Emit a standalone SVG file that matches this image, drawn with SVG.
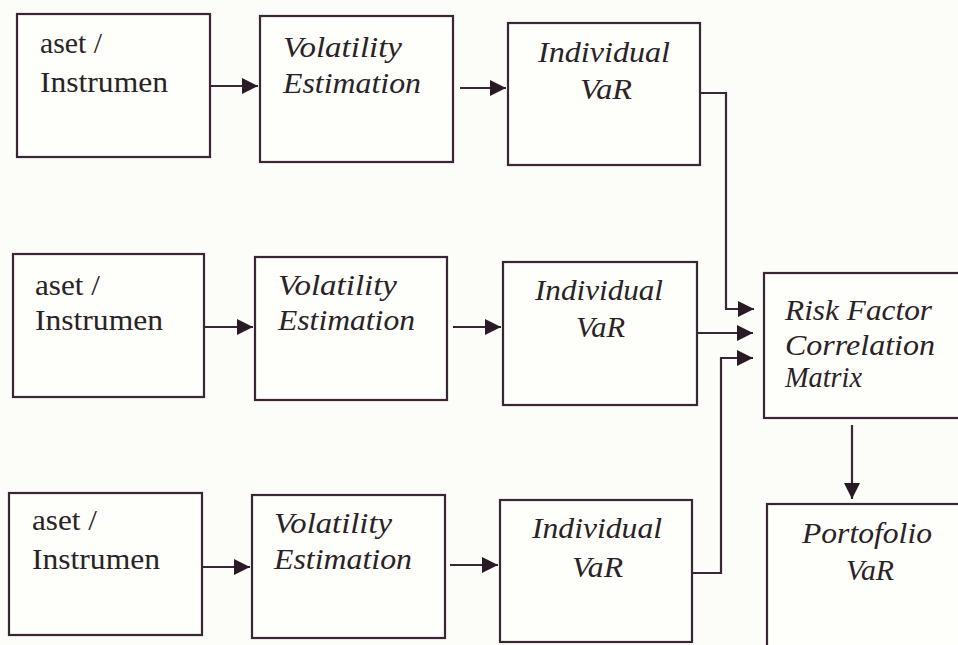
<svg xmlns="http://www.w3.org/2000/svg" width="958" height="645" viewBox="0 0 958 645">
<style>
.bg{fill:#fcfcf8}
.box{fill:#fefefb;stroke:#3a2634;stroke-width:2.2}
.t{font-family:"Liberation Serif","Times New Roman",serif;font-size:29px;fill:#2a2226}
.i{font-style:italic}
.c{fill:none;stroke:#3a2634;stroke-width:2.2}
</style>
<defs>
<marker id="ah" markerUnits="userSpaceOnUse" markerWidth="18" markerHeight="18" viewBox="0 0 18 18" refX="17" refY="9" orient="auto">
<path d="M1,1 L17,9 L1,17 Z" fill="#2a1a26"/>
</marker>
</defs>
<rect class="bg" x="0" y="0" width="958" height="645"/>

<g id="r1b1"><rect class="box" x="17" y="14" width="193" height="143"/>
<text class="t" x="40" y="53" textLength="62" lengthAdjust="spacingAndGlyphs">aset /</text>
<text class="t" x="40" y="92" textLength="128" lengthAdjust="spacingAndGlyphs">Instrumen</text></g>
<g id="r1b2"><rect class="box" x="260" y="16" width="193" height="146"/>
<text class="t i" x="283" y="57" textLength="119" lengthAdjust="spacingAndGlyphs">Volatility</text>
<text class="t i" x="283" y="93" textLength="138" lengthAdjust="spacingAndGlyphs">Estimation</text></g>
<g id="r1b3"><rect class="box" x="508" y="23" width="192" height="142"/>
<text class="t i" x="538" y="62" textLength="132" lengthAdjust="spacingAndGlyphs">Individual</text>
<text class="t i" x="580" y="99" textLength="52" lengthAdjust="spacingAndGlyphs">VaR</text></g>

<g id="r2b1"><rect class="box" x="13" y="254" width="191" height="143"/>
<text class="t" x="35" y="295" textLength="65" lengthAdjust="spacingAndGlyphs">aset /</text>
<text class="t" x="35" y="330" textLength="128" lengthAdjust="spacingAndGlyphs">Instrumen</text></g>
<g id="r2b2"><rect class="box" x="255" y="257" width="192" height="143"/>
<text class="t i" x="278" y="295" textLength="119" lengthAdjust="spacingAndGlyphs">Volatility</text>
<text class="t i" x="278" y="330" textLength="137" lengthAdjust="spacingAndGlyphs">Estimation</text></g>
<g id="r2b3"><rect class="box" x="503" y="262" width="194" height="143"/>
<text class="t i" x="535" y="300" textLength="128" lengthAdjust="spacingAndGlyphs">Individual</text>
<text class="t i" x="576" y="337" textLength="49" lengthAdjust="spacingAndGlyphs">VaR</text></g>

<g id="r3b1"><rect class="box" x="9" y="493" width="193" height="142"/>
<text class="t" x="32" y="530" textLength="65" lengthAdjust="spacingAndGlyphs">aset /</text>
<text class="t" x="32" y="569" textLength="128" lengthAdjust="spacingAndGlyphs">Instrumen</text></g>
<g id="r3b2"><rect class="box" x="252" y="495" width="193" height="143"/>
<text class="t i" x="274" y="533" textLength="118" lengthAdjust="spacingAndGlyphs">Volatility</text>
<text class="t i" x="274" y="569" textLength="138" lengthAdjust="spacingAndGlyphs">Estimation</text></g>
<g id="r3b3"><rect class="box" x="500" y="500" width="192" height="142"/>
<text class="t i" x="532" y="538" textLength="130" lengthAdjust="spacingAndGlyphs">Individual</text>
<text class="t i" x="572" y="577" textLength="51" lengthAdjust="spacingAndGlyphs">VaR</text></g>

<g id="risk"><rect class="box" x="764" y="273" width="230" height="145"/>
<text class="t i" x="785" y="320" textLength="147" lengthAdjust="spacingAndGlyphs">Risk Factor</text>
<text class="t i" x="785" y="355" textLength="150" lengthAdjust="spacingAndGlyphs">Correlation</text>
<text class="t i" x="785" y="387" textLength="77" lengthAdjust="spacingAndGlyphs">Matrix</text></g>
<g id="portofolio"><rect class="box" x="767" y="504" width="230" height="170"/>
<text class="t i" x="802" y="543" textLength="130" lengthAdjust="spacingAndGlyphs">Portofolio</text>
<text class="t i" x="846" y="580" textLength="48" lengthAdjust="spacingAndGlyphs">VaR</text></g>

<g id="connectors">
<path class="c" d="M210,86 H258" marker-end="url(#ah)"/>
<path class="c" d="M460,88 H506" marker-end="url(#ah)"/>
<path class="c" d="M204,327 H253" marker-end="url(#ah)"/>
<path class="c" d="M453,327 H501" marker-end="url(#ah)"/>
<path class="c" d="M202,567 H250" marker-end="url(#ah)"/>
<path class="c" d="M450,565 H498" marker-end="url(#ah)"/>
<path class="c" d="M700,93 H726 V309 H754" marker-end="url(#ah)"/>
<path class="c" d="M697,333 H753" marker-end="url(#ah)"/>
<path class="c" d="M693,573 H721 V358 H753" marker-end="url(#ah)"/>
<path class="c" d="M852,425 V499" marker-end="url(#ah)"/>
</g>
</svg>
